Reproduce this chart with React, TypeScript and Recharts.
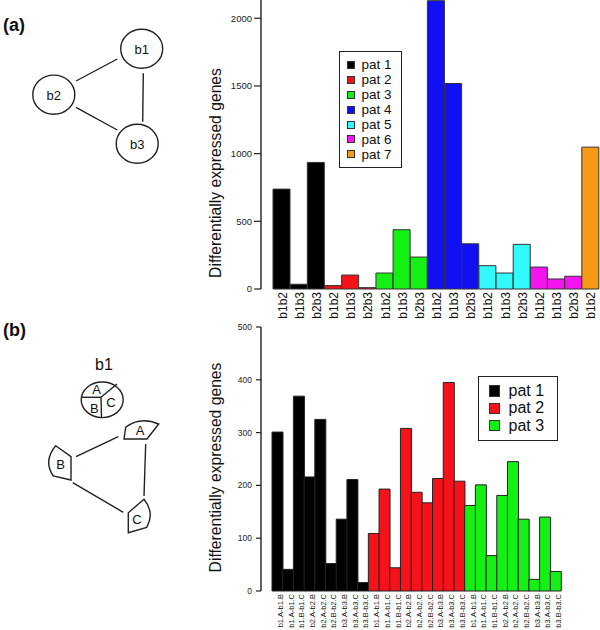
import React from "react";
import { Bar, BarChart, Cell, Legend, XAxis, YAxis } from "recharts";

// (a) pairwise comparisons between biopsies, per patient
const pairsA = [
  "b1b2", "b1b3", "b2b3",
  "b1b2", "b1b3", "b2b3",
  "b1b2", "b1b3", "b2b3",
  "b1b2", "b1b3", "b2b3",
  "b1b2", "b1b3", "b2b3",
  "b1b2", "b1b3", "b2b3",
  "b1b2",
];
const patientOfA = [1, 1, 1, 2, 2, 2, 3, 3, 3, 4, 4, 4, 5, 5, 5, 6, 6, 6, 7];
const genesA = [738, 35, 935, 25, 103, 10, 118, 438, 236, 2130, 1518, 334, 172, 118, 330, 162, 74, 94, 1048];
const ticksA = [0, 500, 1000, 1500, 2000];

// (b) comparisons between pieces of the same biopsy
const pairsB = [
  "b1.A-b1.B", "b1.A-b1.C", "b1.B-b1.C", "b2.A-b2.B", "b2.A-b2.C", "b2.B-b2.C", "b3.A-b3.B", "b3.A-b3.C", "b3.B-b3.C",
  "b1.A-b1.B", "b1.A-b1.C", "b1.B-b1.C", "b2.A-b2.B", "b2.A-b2.C", "b2.B-b2.C", "b3.A-b3.B", "b3.A-b3.C", "b3.B-b3.C",
  "b1.A-b1.B", "b1.A-b1.C", "b1.B-b1.C", "b2.A-b2.B", "b2.A-b2.C", "b2.B-b2.C", "b3.A-b3.B", "b3.A-b3.C", "b3.B-b3.C",
];
const patientOfB = [1, 1, 1, 1, 1, 1, 1, 1, 1, 2, 2, 2, 2, 2, 2, 2, 2, 2, 3, 3, 3, 3, 3, 3, 3, 3, 3];
const genesB = [301, 41, 369, 216, 325, 52, 136, 211, 16, 109, 193, 44, 308, 187, 167, 213, 395, 208, 162, 201, 67, 181, 245, 136, 22, 140, 37];
const ticksB = [0, 100, 200, 300, 400, 500];

const patientNames = ["pat 1", "pat 2", "pat 3", "pat 4", "pat 5", "pat 6", "pat 7"];
const patientColors = ["#000000", "#f5121b", "#14f014", "#1010f2", "#33fafa", "#f514f0", "#f59a14"];

const FONT = "'Liberation Sans', Arial, Helvetica, sans-serif";
const INK = "#222";

const TOP_A = 2135;
const PLOT_H_A = 289;

const dataA = genesA.map((g, i) => ({ key: `${i}:${pairsA[i]}`, pat: patientOfA[i], genes: g }));
const dataB = genesB.map((g, i) => ({ key: `${i}:${pairsB[i]}`, pat: patientOfB[i], genes: g }));

function makeTick(fontSize: number, shift: number) {
  return (props: any) => {
    const { x, y, payload } = props;
    const text = String(payload.value).split(":")[1];
    return (
      <text
        transform={`translate(${x + shift},${y}) rotate(-90)`}
        textAnchor="end"
        fontSize={fontSize}
        fontFamily={FONT}
        fill="#111"
      >
        {text}
      </text>
    );
  };
}

function yTitle(x: number, y: number) {
  return () => (
    <text
      x={x}
      y={y}
      transform={`rotate(-90 ${x} ${y})`}
      textAnchor="middle"
      fontSize={15.7}
      fontFamily={FONT}
      fill="#111"
    >
      Differentially expressed genes
    </text>
  );
}

function legendBox(count: number, fontSize: number, swatch: number, rowH: number, padX: number, padY: number, gap: number) {
  return () => (
    <div
      style={{
        border: "1.3px solid #222",
        background: "#fff",
        padding: `${padY}px ${padX + 3}px ${padY}px ${padX}px`,
        fontFamily: FONT,
        fontSize,
        color: "#111",
      }}
    >
      {patientNames.slice(0, count).map((n, i) => (
        <div key={n} style={{ display: "flex", alignItems: "center", height: rowH, whiteSpace: "nowrap" }}>
          <span
            style={{
              display: "inline-block",
              width: swatch,
              height: swatch,
              background: patientColors[i],
              border: "1px solid #333",
              boxSizing: "border-box",
              marginRight: gap,
            }}
          />
          {n}
        </div>
      ))}
    </div>
  );
}

function Diagrams() {
  const s = { fill: "none", stroke: INK, strokeWidth: 1.4 };
  const t = { fontFamily: FONT, fill: "#111", textAnchor: "middle" as const, dominantBaseline: "central" as const };
  return (
    <svg width={190} height={630} style={{ position: "absolute", left: 0, top: 0 }}>
      <text x={3} y={31} fontSize={18} fontWeight="bold" fontFamily={FONT} fill="#111">(a)</text>
      <line x1={76} y1={81} x2={117.3} y2={59} {...s} />
      <line x1={143.3} y1={73.3} x2={142.7} y2={121.7} {...s} />
      <line x1={76} y1={107.3} x2={117.3} y2={130} {...s} />
      <ellipse cx={141.7} cy={48.8} rx={21} ry={19.5} {...s} />
      <ellipse cx={53.8} cy={94.7} rx={21} ry={19.6} {...s} />
      <ellipse cx={137.2} cy={143.8} rx={21} ry={19.5} {...s} />
      <text x={141.7} y={49} fontSize={13} {...t}>b1</text>
      <text x={53.8} y={95} fontSize={13} {...t}>b2</text>
      <text x={137.2} y={144} fontSize={13} {...t}>b3</text>

      <text x={3} y={336} fontSize={18} fontWeight="bold" fontFamily={FONT} fill="#111">(b)</text>
      <text x={104} y={370} fontSize={16} fontFamily={FONT} fill="#111" textAnchor="middle">b1</text>
      <ellipse cx={102.2} cy={399.8} rx={21} ry={17.8} {...s} />
      <line x1={81.2} y1={397.3} x2={101} y2={397.3} {...s} />
      <line x1={101} y1={397.3} x2={117} y2={384} {...s} />
      <line x1={101} y1={397.3} x2={101.5} y2={417.5} {...s} />
      <text x={96.7} y={389.5} fontSize={13} {...t}>A</text>
      <text x={94.3} y={408.5} fontSize={13} {...t}>B</text>
      <text x={111} y={402} fontSize={13} {...t}>C</text>

      <line x1={118.3} y1={436.7} x2={76} y2={456.7} {...s} />
      <line x1={145.7} y1={444} x2={144} y2={496} {...s} />
      <line x1={72.7} y1={482.7} x2={123.3} y2={512.3} {...s} />
      <path d="M124,439 L125.7,427.3 Q140,416 158.7,424 L147,439 Z" {...s} />
      <path d="M55.7,445.7 L71,456.7 L71,480 L53.3,476 Q43,461 55.7,445.7 Z" {...s} />
      <path d="M144,499.3 Q155,513 146.7,527.3 L128.3,532.7 L128.3,512.7 Z" {...s} />
      <text x={140} y={430} fontSize={13} {...t}>A</text>
      <text x={60.5} y={464} fontSize={13} {...t}>B</text>
      <text x={137} y={519.5} fontSize={13} {...t}>C</text>
    </svg>
  );
}

export default function App() {
  return (
    <div style={{ position: "absolute", left: 0, top: 0, width: 600, height: 630, background: "#fff", overflow: "hidden" }}>
      <Diagrams />

      <div style={{ position: "absolute", left: 190, top: 0 }}>
        <BarChart width={410} height={PLOT_H_A + 31} data={dataA} margin={{ top: 0, right: 1, bottom: 0, left: 0 }} barCategoryGap={0}>
          <XAxis
            dataKey="key"
            interval={0}
            tickSize={0}
            tickMargin={3}
            axisLine={false}
            height={31}
            padding={{ left: 12, right: 0 }}
            tick={makeTick(12, 5)}
          />
          <YAxis
            width={71}
            domain={[0, TOP_A]}
            ticks={ticksA}
            interval={0}
            axisLine={{ stroke: INK, strokeWidth: 1.4 }}
            tickLine={{ stroke: INK, strokeWidth: 1.2 }}
            tickSize={7}
            tickMargin={2}
            tick={{ fontSize: 9.5, fill: "#222", fontFamily: FONT }}
            label={yTitle(31, 173)}
          />
          <Bar dataKey="genes" stroke="#333" strokeWidth={1} isAnimationActive={false}>
            {dataA.map((d) => (
              <Cell key={d.key} fill={patientColors[d.pat - 1]} />
            ))}
          </Bar>
          <Legend
            layout="vertical"
            align="center"
            verticalAlign="middle"
            content={legendBox(7, 13.5, 8, 14.9, 6.5, 5.5, 7)}
            wrapperStyle={{ left: 149, top: 51, width: "auto", height: "auto" }}
          />
        </BarChart>
      </div>

      <div style={{ position: "absolute", left: 190, top: 320 }}>
        <BarChart width={410} height={310} data={dataB} margin={{ top: 7, right: 39, bottom: 0, left: 0 }} barCategoryGap={0}>
          <XAxis
            dataKey="key"
            interval={0}
            tickSize={0}
            tickMargin={3}
            axisLine={false}
            height={39}
            padding={{ left: 11, right: 0 }}
            tick={makeTick(7.5, 5.5)}
          />
          <YAxis
            width={71}
            domain={[0, 500]}
            ticks={ticksB}
            interval={0}
            axisLine={{ stroke: INK, strokeWidth: 1.4 }}
            tickLine={{ stroke: INK, strokeWidth: 1.2 }}
            tickSize={5}
            tickMargin={4}
            tick={{ fontSize: 8.5, fill: "#222", fontFamily: FONT }}
            label={yTitle(31, 147.5)}
          />
          <Bar dataKey="genes" stroke="#222" strokeWidth={1} isAnimationActive={false}>
            {dataB.map((d) => (
              <Cell key={d.key} fill={patientColors[d.pat - 1]} />
            ))}
          </Bar>
          <Legend
            layout="vertical"
            align="center"
            verticalAlign="middle"
            content={legendBox(3, 16, 11.5, 17.3, 9.5, 5.5, 8.5)}
            wrapperStyle={{ left: 288, top: 56, width: "auto", height: "auto" }}
          />
        </BarChart>
      </div>
    </div>
  );
}
